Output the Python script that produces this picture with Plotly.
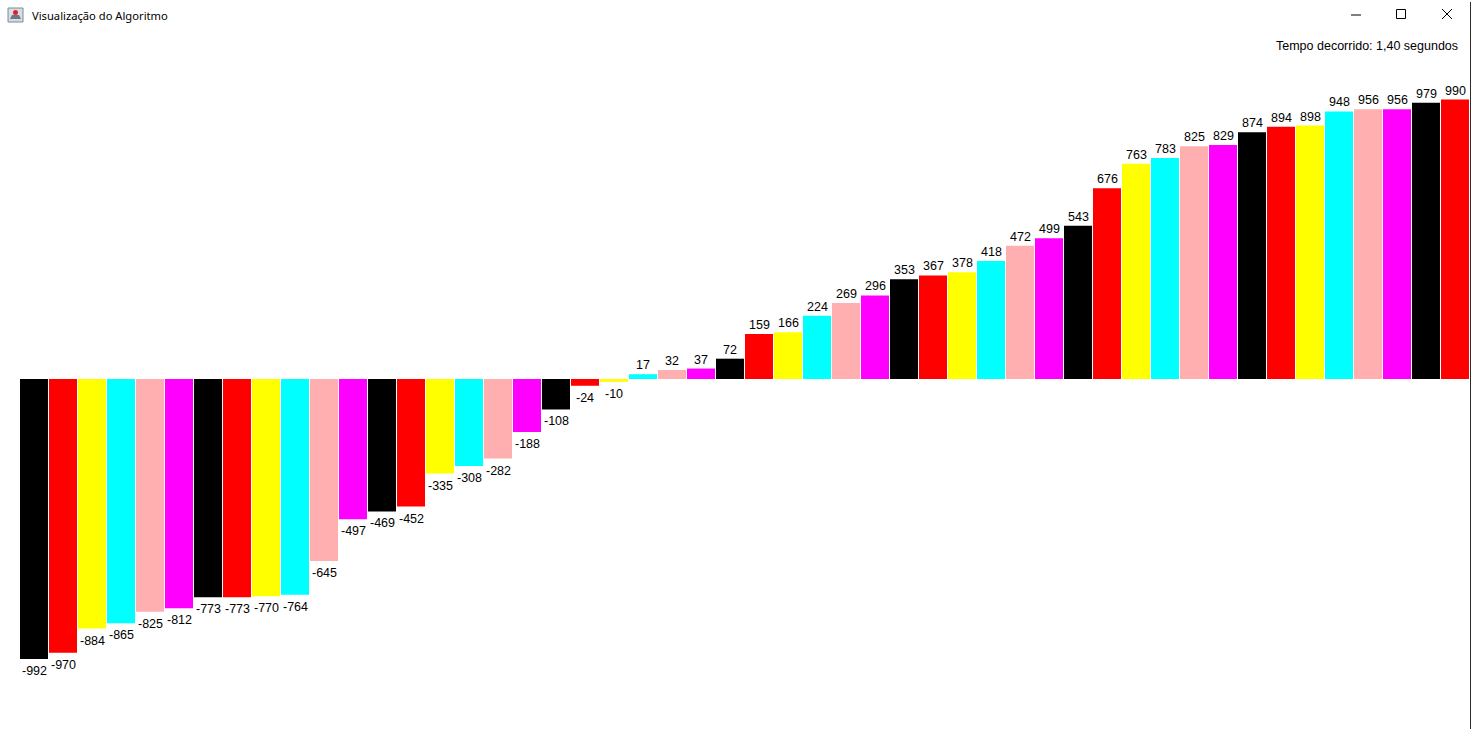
import plotly.graph_objects as go

# ---- data ----
values = [-992, -970, -884, -865, -825, -812, -773, -773, -770, -764,
          -645, -497, -469, -452, -335, -308, -282, -188, -108, -24,
          -10, 17, 32, 37, 72, 159, 166, 224, 269, 296,
          353, 367, 378, 418, 472, 499, 543, 676, 763, 783,
          825, 829, 874, 894, 898, 948, 956, 956, 979, 990]
palette = ["#000000", "#FF0000", "#FFFF00", "#00FFFF", "#FFAFAF", "#FF00FF"]
window_title = "Visualização do Algoritmo"
elapsed_text = "Tempo decorrido: 1,40 segundos"

W, H = 1471, 729
n = len(values)
idx = list(range(n))
colors = [palette[i % len(palette)] for i in idx]

# pixel geometry
slot = 29.0
x0_px = 20 + 14  # centre of first bar
zero_px = 379
scale = 280 / 992.0  # px per unit

xr0 = -x0_px / slot
xr1 = xr0 + W / slot
ytop = zero_px / scale
ybot = -(H - zero_px) / scale

fig = go.Figure()
fig.add_trace(go.Bar(
    x=idx, y=values, marker=dict(color=colors, line=dict(width=0)),
    hoverinfo="skip", showlegend=False,
))

LABEL_FONT = dict(family="Liberation Sans, Arial, sans-serif", size=12.5, color="#000000")
ann = []
for i, v in zip(idx, values):
    if v >= 0:
        ann.append(dict(x=i, y=v, xref="x", yref="y", text=str(v), showarrow=False,
                        xanchor="center", yanchor="bottom", yshift=0, font=LABEL_FONT))
    else:
        ann.append(dict(x=i, y=v, xref="x", yref="y", text=str(v), showarrow=False,
                        xanchor="center", yanchor="top", yshift=-3, font=LABEL_FONT))

def px(x):
    return x / W

def py(y):
    return 1 - y / H

ann.append(dict(x=px(29.5), y=py(15), xref="paper", yref="paper", text=window_title,
                showarrow=False, xanchor="left", yanchor="middle",
                font=dict(family="Noto Sans, Segoe UI, sans-serif", size=11.2, color="#000000")))
ann.append(dict(x=px(1460), y=py(46), xref="paper", yref="paper", text=elapsed_text,
                showarrow=False, xanchor="right", yanchor="middle", font=LABEL_FONT))

shapes = []
def line(xa, ya, xb, yb, color="#000000", w=1):
    shapes.append(dict(type="line", xref="paper", yref="paper",
                       x0=px(xa), y0=py(ya), x1=px(xb), y1=py(yb),
                       line=dict(color=color, width=w)))

# window controls
line(1351, 15, 1361, 15)
shapes.append(dict(type="rect", xref="paper", yref="paper", x0=px(1396.5), y0=py(9.5),
                   x1=px(1405.5), y1=py(18.5), line=dict(color="#000000", width=1)))
line(1442, 9, 1452, 19)
line(1442, 19, 1452, 9)
# right window border
line(1470.5, 2, 1470.5, H, color="#2b2b2b", w=1)
# icon
shapes.append(dict(type="rect", xref="paper", yref="paper", x0=px(8), y0=py(8),
                   x1=px(23), y1=py(22), line=dict(color="#7a8a9a", width=1), fillcolor="#d8dde3"))
shapes.append(dict(type="path", xref="paper", yref="paper",
                   path=f"M {px(10)} {py(19)} L {px(21)} {py(19)} L {px(19)} {py(15)} L {px(12)} {py(15)} Z",
                   line=dict(width=0), fillcolor="#6b7785"))
shapes.append(dict(type="circle", xref="paper", yref="paper", x0=px(13), y0=py(10),
                   x1=px(18), y1=py(15), line=dict(width=0), fillcolor="#e0202a"))

fig.update_layout(
    width=W, height=H, margin=dict(l=0, r=0, t=0, b=0),
    paper_bgcolor="#FFFFFF", plot_bgcolor="#FFFFFF",
    bargap=1 / slot,
    xaxis=dict(range=[xr0, xr1], visible=False, fixedrange=True),
    yaxis=dict(range=[ybot, ytop], visible=False, fixedrange=True),
    annotations=ann, shapes=shapes,
)

fig.write_html("out.html", config={"displayModeBar": False})
